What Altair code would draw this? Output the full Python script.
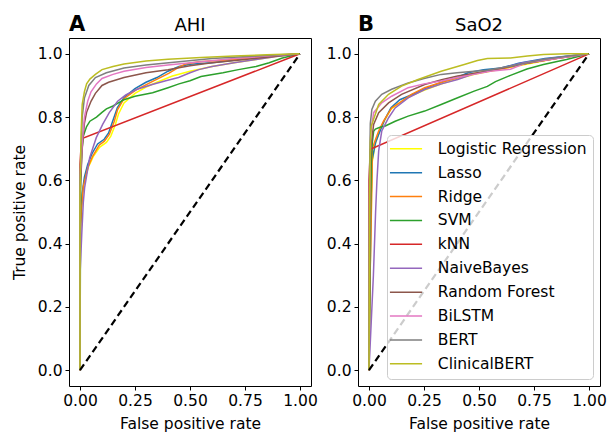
import altair as alt
import pandas as pd

models = ["Logistic Regression", "Lasso", "Ridge", "SVM", "kNN", "NaiveBayes",
          "Random Forest", "BiLSTM", "BERT", "ClinicalBERT"]
colors = ["#ffff00", "#1f77b4", "#ff7f0e", "#2ca02c", "#d62728", "#9467bd",
          "#8c564b", "#e377c2", "#7f7f7f", "#bcbd22"]

x_ticks = [0.0, 0.25, 0.5, 0.75, 1.0]
y_ticks = [0.0, 0.2, 0.4, 0.6, 0.8, 1.0]
diag_fpr = [0.0, 1.0]
diag_tpr = [0.0, 1.0]

# ---- Panel A: AHI  (fpr, tpr) points ----
ahi_logreg = [(0, 0), (0, 0.45), (0.01, 0.55), (0.02, 0.6), (0.04, 0.645), (0.06, 0.675), (0.09, 0.705),
              (0.12, 0.72), (0.14, 0.74), (0.16, 0.775), (0.175, 0.81), (0.2, 0.845), (0.25, 0.875),
              (0.3, 0.895), (0.35, 0.91), (0.42, 0.93), (0.5, 0.945), (0.6, 0.96), (0.7, 0.972),
              (0.8, 0.982), (0.9, 0.992), (1, 1)]
ahi_lasso = [(0, 0), (0, 0.45), (0.01, 0.56), (0.02, 0.61), (0.035, 0.65), (0.055, 0.685), (0.08, 0.715),
             (0.11, 0.73), (0.13, 0.75), (0.15, 0.79), (0.17, 0.83), (0.2, 0.862), (0.25, 0.89),
             (0.3, 0.91), (0.35, 0.925), (0.4, 0.945), (0.45, 0.96), (0.5, 0.967), (0.6, 0.972),
             (0.7, 0.98), (0.8, 0.988), (0.9, 0.995), (1, 1)]
ahi_ridge = [(0, 0), (0, 0.4), (0.008, 0.52), (0.015, 0.58), (0.035, 0.64), (0.058, 0.677), (0.088, 0.712),
             (0.111, 0.724), (0.133, 0.745), (0.156, 0.787), (0.171, 0.824), (0.2, 0.858), (0.253, 0.885),
             (0.328, 0.912), (0.403, 0.938), (0.45, 0.958), (0.48, 0.968), (0.54, 0.975), (0.65, 0.98),
             (0.75, 0.985), (0.85, 0.992), (1, 1)]
ahi_svm = [(0, 0), (0.003, 0.6), (0.008, 0.69), (0.015, 0.74), (0.03, 0.77), (0.045, 0.787), (0.075, 0.8),
           (0.1, 0.815), (0.12, 0.826), (0.15, 0.835), (0.2, 0.855), (0.25, 0.866), (0.33, 0.877),
           (0.4, 0.893), (0.45, 0.905), (0.5, 0.915), (0.55, 0.928), (0.65, 0.94), (0.72, 0.95),
           (0.8, 0.96), (0.86, 0.972), (0.92, 0.987), (1, 1)]
ahi_knn = [(0, 0), (0, 0.65), (0.005, 0.71), (0.012, 0.733), (1, 1)]
ahi_nb = [(0, 0), (0, 0.3), (0.008, 0.43), (0.015, 0.53), (0.021, 0.577), (0.044, 0.672), (0.074, 0.735),
          (0.103, 0.777), (0.133, 0.814), (0.171, 0.85), (0.208, 0.87), (0.26, 0.888), (0.328, 0.903),
          (0.39, 0.915), (0.448, 0.925), (0.5, 0.94), (0.54, 0.95), (0.6, 0.96), (0.7, 0.972),
          (0.8, 0.982), (0.9, 0.992), (1, 1)]
ahi_rf = [(0, 0), (0, 0.55), (0.01, 0.7), (0.02, 0.78), (0.03, 0.815), (0.05, 0.85), (0.07, 0.875),
          (0.1, 0.9), (0.13, 0.91), (0.2, 0.925), (0.3, 0.94), (0.4, 0.95), (0.5, 0.962), (0.6, 0.972),
          (0.75, 0.982), (0.9, 0.993), (1, 1)]
ahi_bilstm = [(0, 0), (0, 0.6), (0.01, 0.72), (0.02, 0.8), (0.035, 0.85), (0.05, 0.88), (0.075, 0.905),
              (0.1, 0.922), (0.15, 0.935), (0.2, 0.945), (0.3, 0.957), (0.4, 0.965), (0.55, 0.975),
              (0.7, 0.985), (0.85, 0.993), (1, 1)]
ahi_bert = [(0, 0), (0, 0.6), (0.01, 0.8), (0.02, 0.86), (0.04, 0.9), (0.07, 0.925), (0.12, 0.94),
            (0.2, 0.955), (0.3, 0.965), (0.45, 0.975), (0.6, 0.985), (0.8, 0.993), (1, 1)]
ahi_clinicalbert = [(0, 0), (0, 0.55), (0.005, 0.75), (0.01, 0.84), (0.02, 0.88), (0.03, 0.905),
                    (0.045, 0.92), (0.07, 0.935), (0.1, 0.95), (0.15, 0.96), (0.2, 0.968), (0.3, 0.977),
                    (0.4, 0.983), (0.55, 0.988), (0.7, 0.993), (0.85, 0.997), (1, 1)]

# ---- Panel B: SaO2 ----
sao2_logreg = [(0, 0), (0.005, 0.3), (0.01, 0.55), (0.015, 0.66), (0.03, 0.72), (0.05, 0.76), (0.075, 0.795),
               (0.1, 0.825), (0.15, 0.85), (0.2, 0.87), (0.25, 0.885), (0.33, 0.905), (0.4, 0.92),
               (0.48, 0.935), (0.55, 0.945), (0.65, 0.958), (0.75, 0.972), (0.85, 0.985), (1, 1)]
sao2_lasso = [(0, 0), (0.005, 0.3), (0.01, 0.55), (0.013, 0.66), (0.03, 0.72), (0.044, 0.745), (0.07, 0.79),
              (0.1, 0.83), (0.14, 0.855), (0.2, 0.872), (0.24, 0.885), (0.283, 0.898), (0.35, 0.915),
              (0.4, 0.925), (0.45, 0.94), (0.52, 0.95), (0.6, 0.955), (0.68, 0.97), (0.8, 0.985), (1, 1)]
sao2_ridge = [(0, 0), (0.005, 0.3), (0.013, 0.58), (0.015, 0.7), (0.03, 0.73), (0.044, 0.756), (0.066, 0.787),
              (0.103, 0.829), (0.148, 0.85), (0.193, 0.872), (0.253, 0.893), (0.33, 0.91), (0.403, 0.924),
              (0.47, 0.937), (0.538, 0.945), (0.62, 0.955), (0.72, 0.97), (0.85, 0.985), (1, 1)]
sao2_svm = [(0, 0), (0.005, 0.4), (0.01, 0.65), (0.015, 0.72), (0.021, 0.755), (0.029, 0.762), (0.05, 0.768),
            (0.074, 0.772), (0.119, 0.787), (0.178, 0.803), (0.253, 0.819), (0.328, 0.84), (0.403, 0.861),
            (0.478, 0.882), (0.538, 0.897), (0.575, 0.912), (0.643, 0.932), (0.718, 0.952), (0.793, 0.966),
            (0.85, 0.975), (0.898, 0.982), (1, 1)]
sao2_knn = [(0, 0), (0, 0.6), (0.006, 0.698), (1, 1)]
sao2_nb = [(0, 0), (0.01, 0.15), (0.02, 0.3), (0.03, 0.5), (0.036, 0.598), (0.044, 0.693), (0.058, 0.756),
           (0.089, 0.798), (0.119, 0.829), (0.178, 0.861), (0.253, 0.887), (0.33, 0.905), (0.403, 0.919),
           (0.47, 0.935), (0.538, 0.945), (0.62, 0.958), (0.7, 0.972), (0.82, 0.985), (1, 1)]
sao2_rf = [(0, 0), (0.003, 0.5), (0.008, 0.7), (0.021, 0.777), (0.044, 0.814), (0.089, 0.845), (0.148, 0.872),
           (0.253, 0.903), (0.33, 0.918), (0.403, 0.93), (0.538, 0.945), (0.62, 0.957), (0.72, 0.97),
           (0.85, 0.985), (1, 1)]
sao2_bilstm = [(0, 0), (0.003, 0.55), (0.008, 0.75), (0.021, 0.814), (0.058, 0.845), (0.103, 0.866),
               (0.178, 0.893), (0.25, 0.905), (0.328, 0.914), (0.4, 0.925), (0.478, 0.935), (0.55, 0.945),
               (0.643, 0.951), (0.718, 0.972), (0.8, 0.98), (0.868, 0.987), (1, 1)]
sao2_bert = [(0, 0), (0.002, 0.6), (0.006, 0.78), (0.013, 0.824), (0.029, 0.85), (0.058, 0.872), (0.103, 0.888),
             (0.178, 0.908), (0.25, 0.922), (0.328, 0.935), (0.4, 0.94), (0.478, 0.945), (0.538, 0.948),
             (0.643, 0.961), (0.72, 0.972), (0.793, 0.982), (0.9, 0.992), (1, 1)]
sao2_clinicalbert = [(0, 0), (0.003, 0.55), (0.006, 0.72), (0.01, 0.77), (0.021, 0.793), (0.044, 0.84),
                     (0.089, 0.872), (0.148, 0.898), (0.223, 0.919), (0.328, 0.945), (0.433, 0.966),
                     (0.493, 0.979), (0.538, 0.985), (0.643, 0.987), (0.72, 0.993), (0.793, 0.998),
                     (0.9, 1.0), (1, 1)]

ahi_curves = [ahi_logreg, ahi_lasso, ahi_ridge, ahi_svm, ahi_knn, ahi_nb, ahi_rf, ahi_bilstm,
              ahi_bert, ahi_clinicalbert]
sao2_curves = [sao2_logreg, sao2_lasso, sao2_ridge, sao2_svm, sao2_knn, sao2_nb, sao2_rf, sao2_bilstm,
               sao2_bert, sao2_clinicalbert]

FONT = "DejaVu Sans"
W, H = 242, 348


def curves_frame(curves):
    rows = []
    for m, pts in zip(models, curves):
        for i, (f, t) in enumerate(pts):
            rows.append({"model": m, "idx": i, "fpr": f, "tpr": t})
    return pd.DataFrame(rows)


def panel(curves, letter, title, y_title, legend):
    df = curves_frame(curves)
    sx = alt.Scale(domain=[-0.05, 1.05], nice=False, zero=False)
    sy = alt.Scale(domain=[-0.05, 1.05], nice=False, zero=False)
    yaxis = alt.Axis(values=y_ticks, format=".1f", title=y_title) if y_title else \
        alt.Axis(values=y_ticks, format=".1f", title=None)
    lines = alt.Chart(df).mark_line(strokeWidth=1.5, clip=True).encode(
        x=alt.X("fpr:Q", scale=sx,
                axis=alt.Axis(values=x_ticks, format=".2f", title="False positive rate", labelFlush=False)),
        y=alt.Y("tpr:Q", scale=sy, axis=yaxis),
        color=alt.Color("model:N", scale=alt.Scale(domain=models, range=colors), legend=legend),
        order=alt.Order("idx:Q"),
    )
    diag = alt.Chart(pd.DataFrame({"fpr": diag_fpr, "tpr": diag_tpr})).mark_line(
        color="black", strokeDash=[7, 4], strokeWidth=2.2
    ).encode(x="fpr:Q", y="tpr:Q")
    lab = alt.Chart(pd.DataFrame({"t": [letter]})).mark_text(
        align="left", baseline="alphabetic", fontSize=21, fontWeight="bold", font=FONT, color="black"
    ).encode(x=alt.value(0), y=alt.value(-7), text="t:N")
    ttl = alt.Chart(pd.DataFrame({"t": [title]})).mark_text(
        align="center", baseline="alphabetic", fontSize=18, font=FONT, color="black"
    ).encode(x=alt.value(W / 2), y=alt.value(-7), text="t:N")
    return alt.layer(lines, diag, lab, ttl).properties(width=W, height=H)


leg = alt.Legend(
    title=None, orient="bottom-right", offset=7,
    symbolType="M-2.68,0H2.68", symbolSize=144, symbolStrokeWidth=1.5,
    labelFontSize=15.5, labelFont=FONT, labelColor="black", labelLimit=400,
    padding=6, rowPadding=6.9, symbolOffset=5.25, labelOffset=24.1,
    fillColor="rgba(255,255,255,0.8)", strokeColor="#cccccc", cornerRadius=4,
)

pa = panel(ahi_curves, "A", "AHI", "True positive rate", None)
pb = panel(sao2_curves, "B", "SaO2", None, leg)

chart = alt.hconcat(pa, pb, spacing=7).resolve_scale(color="independent").resolve_legend(
    color="independent"
).properties(
    padding={"left": 3, "top": 5, "right": 0, "bottom": 0}
).configure_view(stroke="black", strokeWidth=1).configure_axis(
    grid=False, domain=False, tickColor="black", tickSize=4, tickWidth=1,
    labelFont=FONT, labelFontSize=15.5, labelColor="black", labelPadding=3,
    titleFont=FONT, titleFontSize=15.5, titleFontWeight="normal", titleColor="black",
).configure_axisX(titlePadding=8).configure_axisY(titlePadding=10)

chart.save("out.html", embed_options={"renderer": "svg", "actions": False})
